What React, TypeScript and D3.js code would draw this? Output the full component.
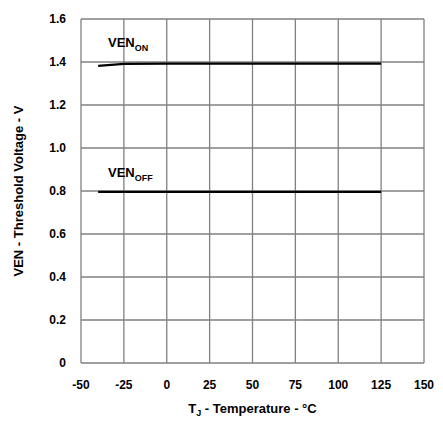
import * as d3 from "d3";

const temps = [-40, -25, 0, 25, 50, 75, 100, 125];
const venOn = [1.382, 1.391, 1.392, 1.392, 1.392, 1.392, 1.392, 1.392];
const venOff = [0.796, 0.796, 0.796, 0.796, 0.796, 0.796, 0.796, 0.796];
const xTicks = [-50, -25, 0, 25, 50, 75, 100, 125, 150];
const yTicks = [0, 0.2, 0.4, 0.6, 0.8, 1.0, 1.2, 1.4, 1.6];

const font = "'Liberation Sans', Arial, sans-serif";

export default function App() {
  const width = 443;
  const height = 428;
  const marginLeft = 81;
  const marginRight = 19;
  const marginTop = 19;
  const marginBottom = 65;

  const x = d3
    .scaleLinear()
    .domain([-50, 150])
    .range([marginLeft, width - marginRight]);
  const y = d3
    .scaleLinear()
    .domain([0, 1.6])
    .range([height - marginBottom, marginTop]);

  const line = d3
    .line<number>()
    .x((_, i) => x(temps[i]))
    .y((d) => y(d));

  return (
    <svg
      width={width}
      height={height}
      style={{ position: "absolute", left: 0, top: 0, background: "#fff" }}
    >
      <g stroke="#808080" strokeWidth={1.3} fill="none">
        {xTicks.map((t) => (
          <line key={"x" + t} x1={x(t)} x2={x(t)} y1={y(0)} y2={y(1.6)} />
        ))}
        {yTicks.map((t) => (
          <line key={"y" + t} x1={x(-50)} x2={x(150)} y1={y(t)} y2={y(t)} />
        ))}
      </g>
      <path d={line(venOn) || undefined} fill="none" stroke="#000" strokeWidth={2.3} />
      <path d={line(venOff) || undefined} fill="none" stroke="#000" strokeWidth={2.3} />
      <g fontFamily={font} fontWeight="bold" fontSize={12} fill="#000">
        {yTicks.map((t) => (
          <text key={"yl" + t} x={66} y={y(t)} dy="0.35em" textAnchor="end">
            {t === 0 ? "0" : t.toFixed(1)}
          </text>
        ))}
        {xTicks.map((t) => (
          <text key={"xl" + t} x={x(t)} y={389} textAnchor="middle">
            {t}
          </text>
        ))}
        <text x={108} y={47} fontSize={13}>
          VEN<tspan fontSize={9} dy={4}>ON</tspan>
        </text>
        <text x={108} y={177} fontSize={13}>
          VEN<tspan fontSize={9} dy={4}>OFF</tspan>
        </text>
        <text x={x(50)} y={413} textAnchor="middle" fontSize={13}>
          T<tspan fontSize={9} dy={3}>J</tspan>
          <tspan dy={-3}> - Temperature - °C</tspan>
        </text>
        <text
          transform={`translate(23,${(y(0) + y(1.6)) / 2}) rotate(-90)`}
          textAnchor="middle"
          fontSize={13}
        >
          VEN - Threshold Voltage - V
        </text>
      </g>
    </svg>
  );
}
